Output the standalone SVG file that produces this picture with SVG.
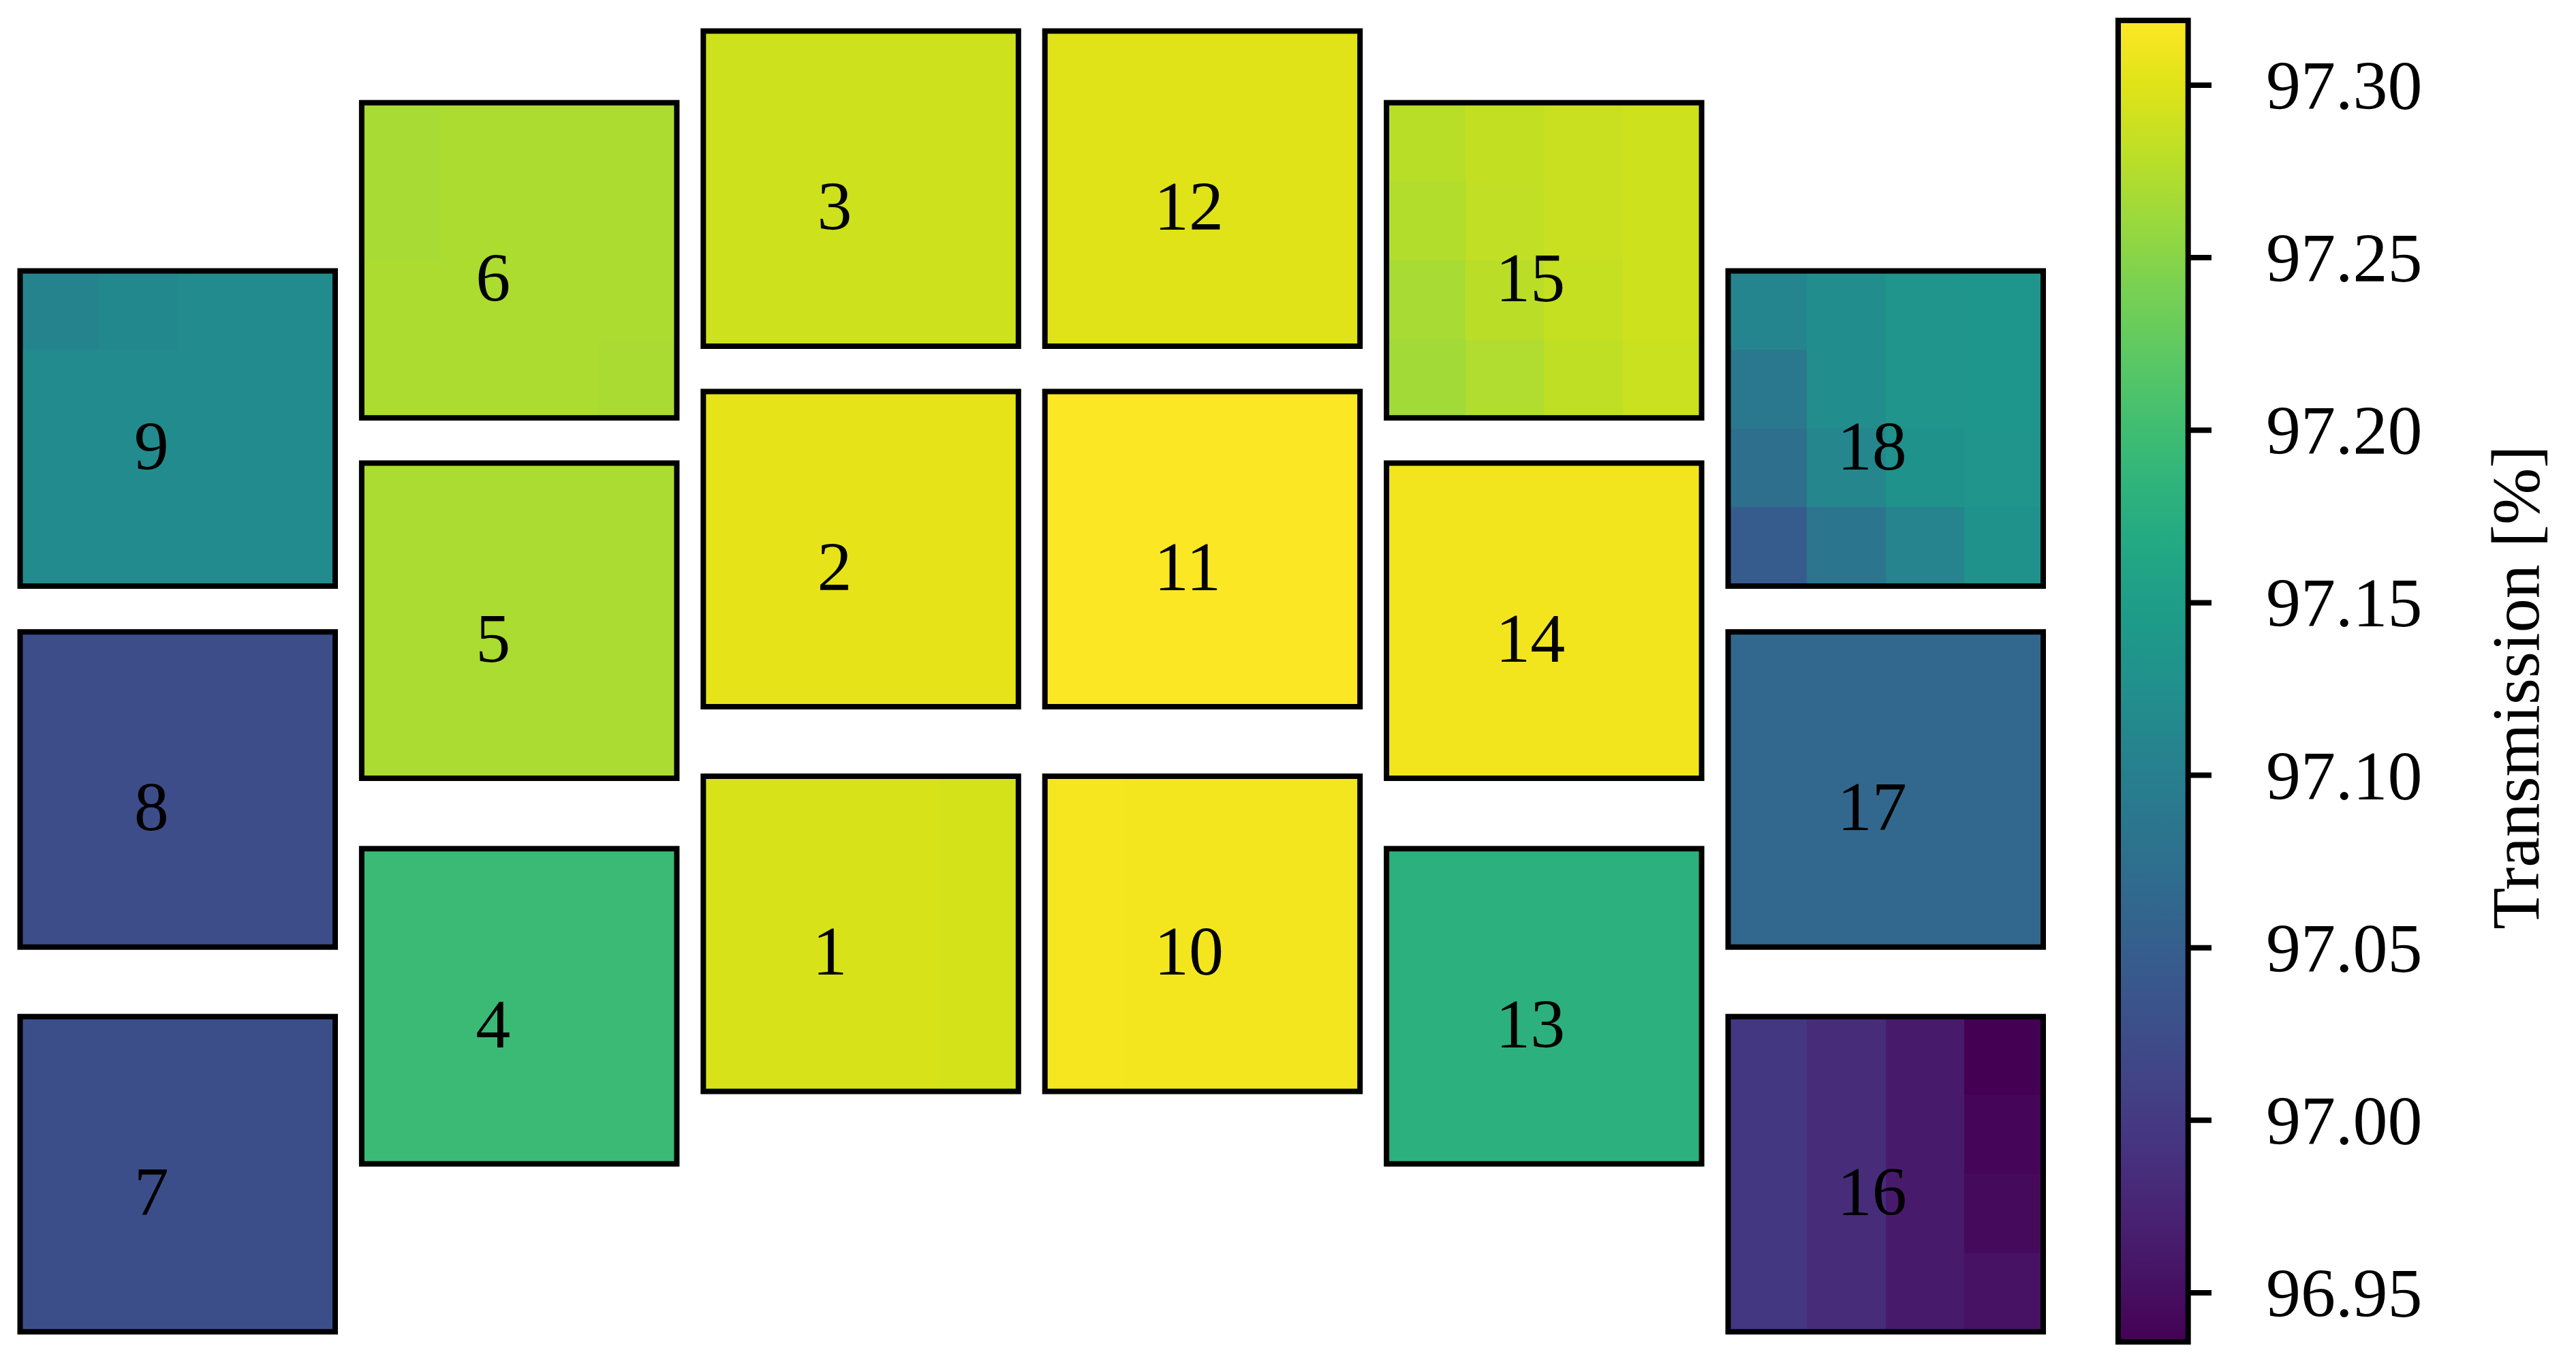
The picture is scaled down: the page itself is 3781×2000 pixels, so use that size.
<svg xmlns="http://www.w3.org/2000/svg" width="3781" height="2000" viewBox="0 0 3781 2000">
<defs>
<linearGradient id="viridis" x1="0" y1="1" x2="0" y2="0">
<stop offset="0" stop-color="#440154"/>
<stop offset="0.05" stop-color="#471365"/>
<stop offset="0.1" stop-color="#482475"/>
<stop offset="0.15" stop-color="#463480"/>
<stop offset="0.2" stop-color="#414487"/>
<stop offset="0.25" stop-color="#3b528b"/>
<stop offset="0.3" stop-color="#355f8d"/>
<stop offset="0.35" stop-color="#2f6c8e"/>
<stop offset="0.4" stop-color="#2a788e"/>
<stop offset="0.45" stop-color="#25848e"/>
<stop offset="0.5" stop-color="#21918c"/>
<stop offset="0.55" stop-color="#1e9c89"/>
<stop offset="0.6" stop-color="#22a884"/>
<stop offset="0.65" stop-color="#2fb47c"/>
<stop offset="0.7" stop-color="#44bf70"/>
<stop offset="0.75" stop-color="#5ec962"/>
<stop offset="0.8" stop-color="#7ad151"/>
<stop offset="0.85" stop-color="#9bd93c"/>
<stop offset="0.9" stop-color="#bddf26"/>
<stop offset="0.95" stop-color="#dfe318"/>
<stop offset="1" stop-color="#fde725"/>
</linearGradient>
</defs>
<style>
.frame{fill:none;stroke:#000;stroke-width:8}
.t{stroke:none;shape-rendering:crispEdges}
.lbl{font-family:"Liberation Serif","DejaVu Serif",serif;font-size:102px;fill:#000}
.tick{stroke:#000;stroke-width:8}
.axl{font-family:"Liberation Serif","DejaVu Serif",serif;font-size:100px;fill:#000}
</style>
<rect x="0" y="0" width="3781" height="2000" fill="#ffffff"/>

<g id="box-9">
<rect class="t" x="29.5" y="397.5" width="462.5" height="462.5" fill="#228b8d"/>
<rect class="t" x="29.5" y="397.5" width="115.6" height="115.6" fill="#25838e"/>
<rect class="t" x="145.1" y="397.5" width="115.6" height="115.6" fill="#23888e"/>
<rect class="frame" x="29.5" y="397.5" width="462.5" height="462.5"/>
<text class="lbl" x="196.75" y="688.75">9</text>
</g>
<g id="box-8">
<rect class="t" x="29.5" y="927.2" width="462.5" height="462.5" fill="#3d4d8a"/>
<rect class="frame" x="29.5" y="927.2" width="462.5" height="462.5"/>
<text class="lbl" x="196.75" y="1218.45">8</text>
</g>
<g id="box-7">
<rect class="t" x="29.5" y="1491.7" width="462.5" height="462.5" fill="#3c4e8a"/>
<rect class="frame" x="29.5" y="1491.7" width="462.5" height="462.5"/>
<text class="lbl" x="196.75" y="1782.95">7</text>
</g>

<g id="box-6">
<rect class="t" x="530.9" y="150.7" width="462.5" height="462.5" fill="#acdc30"/>
<rect class="t" x="530.9" y="150.7" width="115.6" height="231.2" fill="#a8db34"/>
<rect class="t" x="877.8" y="497.6" width="115.6" height="115.6" fill="#a9db33"/>
<rect class="frame" x="530.9" y="150.7" width="462.5" height="462.5"/>
<text class="lbl" x="698.15" y="441.95">6</text>
</g>
<g id="box-5">
<rect class="t" x="530.9" y="679.5" width="462.5" height="462.5" fill="#abdc31"/>
<rect class="frame" x="530.9" y="679.5" width="462.5" height="462.5"/>
<text class="lbl" x="698.15" y="970.75">5</text>
</g>
<g id="box-4">
<rect class="t" x="530.9" y="1245.3" width="462.5" height="462.5" fill="#3bba75"/>
<rect class="frame" x="530.9" y="1245.3" width="462.5" height="462.5"/>
<text class="lbl" x="698.15" y="1536.55">4</text>
</g>

<g id="box-3">
<rect class="t" x="1032.3" y="45.5" width="462.5" height="462.5" fill="#cde11d"/>
<rect class="frame" x="1032.3" y="45.5" width="462.5" height="462.5"/>
<text class="lbl" x="1199.55" y="336.75">3</text>
</g>
<g id="box-2">
<rect class="t" x="1032.3" y="574.5" width="462.5" height="462.5" fill="#e6e419"/>
<rect class="frame" x="1032.3" y="574.5" width="462.5" height="462.5"/>
<text class="lbl" x="1199.55" y="865.75">2</text>
</g>
<g id="box-1">
<rect class="t" x="1032.3" y="1139" width="462.5" height="462.5" fill="#d8e219"/>
<rect class="t" x="1379.2" y="1139" width="115.6" height="462.5" fill="#d4e21a"/>
<rect class="frame" x="1032.3" y="1139" width="462.5" height="462.5"/>
<text class="lbl" x="1192.55" y="1430.25">1</text>
</g>

<g id="box-12">
<rect class="t" x="1533.7" y="45.5" width="462.5" height="462.5" fill="#dfe318"/>
<rect class="frame" x="1533.7" y="45.5" width="462.5" height="462.5"/>
<text class="lbl" x="1693.95" y="336.75">12</text>
</g>
<g id="box-11">
<rect class="t" x="1533.7" y="574.5" width="462.5" height="462.5" fill="#fce724"/>
<rect class="frame" x="1533.7" y="574.5" width="462.5" height="462.5"/>
<text class="lbl" x="1693.95" y="865.75">11</text>
</g>
<g id="box-10">
<rect class="t" x="1533.7" y="1139" width="462.5" height="462.5" fill="#f4e61e"/>
<rect class="t" x="1533.7" y="1139" width="115.6" height="462.5" fill="#f6e620"/>
<rect class="frame" x="1533.7" y="1139" width="462.5" height="462.5"/>
<text class="lbl" x="1693.95" y="1430.25">10</text>
</g>

<g id="box-15">
<rect class="t" x="2035.1" y="150.7" width="462.5" height="462.5" fill="#c5e021"/>
<rect class="t" x="2035.1" y="150.7" width="115.6" height="115.6" fill="#b9de28"/>
<rect class="t" x="2150.7" y="150.7" width="115.6" height="115.6" fill="#c3df22"/>
<rect class="t" x="2266.3" y="150.7" width="115.6" height="115.6" fill="#c8e020"/>
<rect class="t" x="2381.9" y="150.7" width="115.7" height="115.6" fill="#cde11d"/>
<rect class="t" x="2035.1" y="266.3" width="115.6" height="115.6" fill="#b2dd2d"/>
<rect class="t" x="2150.7" y="266.3" width="115.6" height="115.6" fill="#c1df24"/>
<rect class="t" x="2266.3" y="266.3" width="115.6" height="115.6" fill="#c8e020"/>
<rect class="t" x="2381.9" y="266.3" width="115.7" height="115.6" fill="#cde11d"/>
<rect class="t" x="2035.1" y="381.9" width="115.6" height="115.6" fill="#a8db34"/>
<rect class="t" x="2150.7" y="381.9" width="115.6" height="115.6" fill="#bade28"/>
<rect class="t" x="2266.3" y="381.9" width="115.6" height="115.6" fill="#c5e021"/>
<rect class="t" x="2381.9" y="381.9" width="115.7" height="115.6" fill="#cde11d"/>
<rect class="t" x="2035.1" y="497.5" width="115.6" height="115.7" fill="#a2da37"/>
<rect class="t" x="2150.7" y="497.5" width="115.6" height="115.7" fill="#b0dd2f"/>
<rect class="t" x="2266.3" y="497.5" width="115.6" height="115.7" fill="#bfdf25"/>
<rect class="t" x="2381.9" y="497.5" width="115.7" height="115.7" fill="#cae11f"/>
<rect class="frame" x="2035.1" y="150.7" width="462.5" height="462.5"/>
<text class="lbl" x="2195.35" y="441.95">15</text>
</g>
<g id="box-14">
<rect class="t" x="2035.1" y="679.5" width="462.5" height="462.5" fill="#f2e51d"/>
<rect class="frame" x="2035.1" y="679.5" width="462.5" height="462.5"/>
<text class="lbl" x="2195.35" y="970.75">14</text>
</g>
<g id="box-13">
<rect class="t" x="2035.1" y="1245.3" width="462.5" height="462.5" fill="#2cb17e"/>
<rect class="frame" x="2035.1" y="1245.3" width="462.5" height="462.5"/>
<text class="lbl" x="2195.35" y="1536.55">13</text>
</g>

<g id="box-18">
<rect class="t" x="2536.5" y="397.5" width="462.5" height="462.5" fill="#21908d"/>
<rect class="t" x="2536.5" y="397.5" width="115.6" height="115.6" fill="#25858e"/>
<rect class="t" x="2652.1" y="397.5" width="115.6" height="115.6" fill="#228d8d"/>
<rect class="t" x="2767.7" y="397.5" width="115.6" height="115.6" fill="#1f958b"/>
<rect class="t" x="2883.3" y="397.5" width="115.7" height="115.6" fill="#1f968b"/>
<rect class="t" x="2536.5" y="513.1" width="115.6" height="115.6" fill="#2a788e"/>
<rect class="t" x="2652.1" y="513.1" width="115.6" height="115.6" fill="#228d8d"/>
<rect class="t" x="2767.7" y="513.1" width="115.6" height="115.6" fill="#1f958b"/>
<rect class="t" x="2883.3" y="513.1" width="115.7" height="115.6" fill="#1f968b"/>
<rect class="t" x="2536.5" y="628.7" width="115.6" height="115.6" fill="#2e6f8e"/>
<rect class="t" x="2652.1" y="628.7" width="115.6" height="115.6" fill="#25868e"/>
<rect class="t" x="2767.7" y="628.7" width="115.6" height="115.6" fill="#1f928c"/>
<rect class="t" x="2883.3" y="628.7" width="115.7" height="115.6" fill="#1f958b"/>
<rect class="t" x="2536.5" y="744.3" width="115.6" height="115.7" fill="#365c8d"/>
<rect class="t" x="2652.1" y="744.3" width="115.6" height="115.7" fill="#2b758e"/>
<rect class="t" x="2767.7" y="744.3" width="115.6" height="115.7" fill="#25848e"/>
<rect class="t" x="2883.3" y="744.3" width="115.7" height="115.7" fill="#1f928c"/>
<rect class="frame" x="2536.5" y="397.5" width="462.5" height="462.5"/>
<text class="lbl" x="2696.75" y="688.75">18</text>
</g>
<g id="box-17">
<rect class="t" x="2536.5" y="927.2" width="462.5" height="462.5" fill="#32688e"/>
<rect class="frame" x="2536.5" y="927.2" width="462.5" height="462.5"/>
<text class="lbl" x="2696.75" y="1218.45">17</text>
</g>
<g id="box-16">
<rect class="t" x="2536.5" y="1491.7" width="462.5" height="462.5" fill="#472c7a"/>
<rect class="t" x="2536.5" y="1491.7" width="115.6" height="462.5" fill="#443782"/>
<rect class="t" x="2652.1" y="1491.7" width="115.6" height="462.5" fill="#472c7a"/>
<rect class="t" x="2767.7" y="1491.7" width="115.6" height="462.5" fill="#481a6c"/>
<rect class="t" x="2883.3" y="1491.7" width="115.7" height="115.6" fill="#440154"/>
<rect class="t" x="2883.3" y="1607.3" width="115.7" height="115.6" fill="#45065a"/>
<rect class="t" x="2883.3" y="1722.9" width="115.7" height="115.6" fill="#460a5d"/>
<rect class="t" x="2883.3" y="1838.5" width="115.7" height="115.7" fill="#471263"/>
<rect class="frame" x="2536.5" y="1491.7" width="462.5" height="462.5"/>
<text class="lbl" x="2696.75" y="1782.95">16</text>
</g>

<g id="colorbar">
<rect x="3109" y="30" width="102.7" height="1939" fill="url(#viridis)"/>
<rect class="frame" x="3109" y="30" width="102.7" height="1939"/>
<line class="tick" x1="3211.7" y1="125" x2="3246" y2="125"/>
<line class="tick" x1="3211.7" y1="378.1" x2="3246" y2="378.1"/>
<line class="tick" x1="3211.7" y1="631.2" x2="3246" y2="631.2"/>
<line class="tick" x1="3211.7" y1="884.4" x2="3246" y2="884.4"/>
<line class="tick" x1="3211.7" y1="1137.5" x2="3246" y2="1137.5"/>
<line class="tick" x1="3211.7" y1="1390.7" x2="3246" y2="1390.7"/>
<line class="tick" x1="3211.7" y1="1643.8" x2="3246" y2="1643.8"/>
<line class="tick" x1="3211.7" y1="1897" x2="3246" y2="1897"/>
<text class="lbl" x="3326" y="160">97.30</text>
<text class="lbl" x="3326" y="413.1">97.25</text>
<text class="lbl" x="3326" y="666.2">97.20</text>
<text class="lbl" x="3326" y="919.4">97.15</text>
<text class="lbl" x="3326" y="1172.5">97.10</text>
<text class="lbl" x="3326" y="1425.7">97.05</text>
<text class="lbl" x="3326" y="1678.8">97.00</text>
<text class="lbl" x="3326" y="1932">96.95</text>
<text class="axl" text-anchor="middle" transform="translate(3726,1008.5) rotate(-90)">Transmission [%]</text>
</g>
</svg>
